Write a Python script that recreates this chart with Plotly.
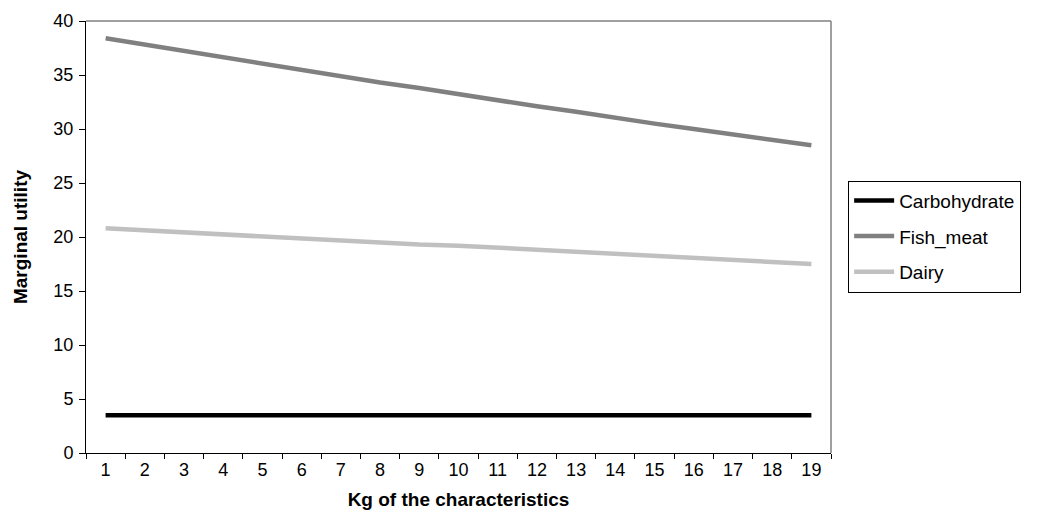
import plotly.graph_objects as go

categories = [str(i) for i in range(1, 20)]
carbohydrate = [3.5] * 19
fish_meat = [38.4, 37.8, 37.2, 36.6, 36.0, 35.4, 34.9, 34.3, 33.8, 33.2,
             32.7, 32.1, 31.6, 31.0, 30.5, 30.0, 29.5, 29.0, 28.5]
dairy = [20.8, 20.6, 20.4, 20.2, 20.0, 19.8, 19.7, 19.5, 19.3, 19.2,
         19.0, 18.8, 18.6, 18.5, 18.3, 18.1, 17.9, 17.7, 17.5]
series_names = ["Carbohydrate", "Fish_meat", "Dairy"]
series_colors = ["#000000", "#808080", "#c0c0c0"]

font = "Liberation Sans, Arial, sans-serif"

fig = go.Figure()
for name, vals, col in zip(series_names, [carbohydrate, fish_meat, dairy], series_colors):
    fig.add_trace(go.Scatter(x=categories, y=vals, mode="lines", name=name,
                             legendgroup=name, line=dict(color=col, width=4.5)))

fig.update_layout(
    width=1040, height=525,
    margin=dict(l=78, r=217, t=13, b=80),
    paper_bgcolor="white", plot_bgcolor="white",
    font=dict(family=font, size=18, color="black"),
    showlegend=True,
    legend=dict(x=1.023, y=0.501, xanchor="left", yanchor="middle",
                bordercolor="#000000", borderwidth=1, bgcolor="white",
                font=dict(size=19, family=font), traceorder="grouped",
                tracegroupgap=8, itemwidth=40),
    xaxis=dict(type="category", tickson="boundaries", ticks="outside", ticklen=5,
               range=[-0.5, 18.5], automargin=False,
               tickcolor="black", showline=True, linecolor="black", linewidth=1,
               showgrid=False, zeroline=False,
               title=dict(text="<b>Kg of the characteristics</b>", font=dict(size=19), standoff=14),
               tickfont=dict(size=18)),
    yaxis=dict(range=[0, 40], dtick=5, ticks="outside", ticklen=6, tickcolor="black",
               automargin=False, ticklabelstandoff=2,
               showline=True, linecolor="black", linewidth=1, showgrid=False, zeroline=False,
               title=dict(text="<b>Marginal utility</b>", font=dict(size=19), standoff=20),
               tickfont=dict(size=18)),
    shapes=[
        dict(type="line", xref="paper", yref="paper", x0=0, x1=1, y0=1, y1=1,
             line=dict(color="#808080", width=1.5)),
        dict(type="line", xref="paper", yref="paper", x0=1, x1=1, y0=0, y1=1,
             line=dict(color="#808080", width=1.5)),
    ],
)

fig.write_html("out.html")
